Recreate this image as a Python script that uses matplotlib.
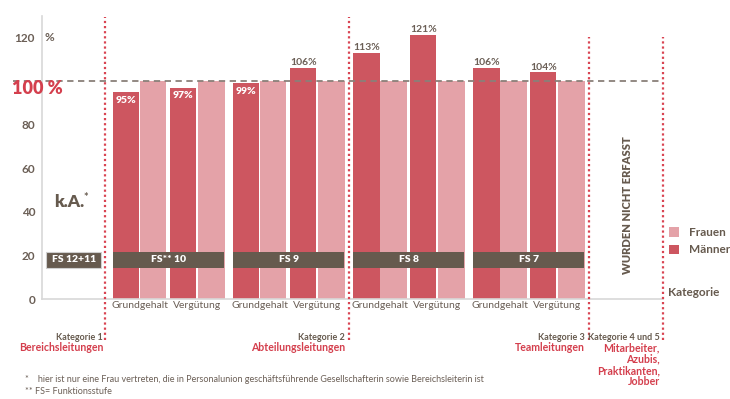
import matplotlib.pyplot as plt
import matplotlib.font_manager as fm

# data
groups = ["FS** 10", "FS 9", "FS 8", "FS 7"]
pair_labels = ["Grundgehalt", "Vergütung"]
maenner = [[95, 97], [99, 106], [113, 121], [106, 104]]
frauen = [[100, 100], [100, 100], [100, 100], [100, 100]]
yticks = [0, 20, 40, 60, 80, 120]
kategorien = ["Kategorie 1", "Kategorie 2", "Kategorie 3", "Kategorie 4 und 5"]
kat_namen = ["Bereichsleitungen", "Abteilungsleitungen", "Teamleitungen",
             "Mitarbeiter,\nAzubis,\nPraktikanten,\nJobber"]

# colours
C_M = "#cd5660"
C_F = "#e4a2a8"
BROWN = "#665a4e"
TXT = "#6b5f56"
RED = "#d43f4d"

names = {f.name for f in fm.fontManager.ttflist}
FONT = "Lato" if "Lato" in names else "DejaVu Sans"
NARROW = "Liberation Sans Narrow" if "Liberation Sans Narrow" in names else FONT
plt.rcParams["font.family"] = FONT
HEAVY = "heavy"

W, H = 730, 399
fig = plt.figure(figsize=(W / 100, H / 100), dpi=100)
PX = 27.0  # pixels per bar width
ax = fig.add_axes([42 / W, 100 / H, 621 / W, 283.4 / H])
ax.set_xlim(0, 621 / PX)
ax.set_ylim(0, 130)


def fx(px):
    return px / W


def fy(py):
    return 1 - py / H


# bars
offsets = [0, 1.0, 2.11, 3.15]
group_w = 4.12
for g, name in enumerate(groups):
    x0 = 2.63 + g * 4.445
    for p in range(2):
        xm = x0 + offsets[2 * p]
        xf = x0 + offsets[2 * p + 1]
        bm = ax.bar(xm, maenner[g][p], width=0.98, align="edge", color=C_M, zorder=2)
        bf = ax.bar(xf, frauen[g][p], width=0.98, align="edge", color=C_F, zorder=2)
        v = maenner[g][p]
        if v < 100:
            ax.text(xm + 0.49, v - 3.8, f"{v}%", ha="center", va="center",
                    color="white", fontsize=7.5, fontweight=HEAVY, zorder=4)
        else:
            ax.text(xm + 0.49, v + 2.4, f"{v}%", ha="center", va="center",
                    color=TXT, fontsize=7.5, fontweight="bold", zorder=4)
        ax.text((xm + xf + 0.98) / 2, -2.8, pair_labels[p], ha="center", va="center",
                color=TXT, fontsize=7.5, family=NARROW, clip_on=False)
    ax.broken_barh([(x0, group_w)], (14.2, 7.4), facecolors=BROWN, zorder=3)
    ax.text(x0 + group_w / 2, 17.9, name, ha="center", va="center", color="white",
            fontsize=7.5, fontweight=HEAVY, zorder=5)

# FS 12+11 box (no data)
ax.broken_barh([(0.15, 2.04)], (14.2, 7.4), facecolors=BROWN, edgecolors="#cfcfcf",
               linewidth=0.8, zorder=3)
ax.text(1.17, 17.9, "FS 12+11", ha="center", va="center", color="white",
        fontsize=7.5, fontweight=HEAVY, zorder=5)
ax.text(0.45, 44.5, "k.A.", ha="left", va="center", color=BROWN, fontsize=12.5,
        fontweight=HEAVY)
ax.text(1.55, 46.5, "*", ha="left", va="center", color=BROWN, fontsize=8,
        fontweight="bold")

ax.text(21.7, 43, "WURDEN NICHT ERFASST", rotation=90, ha="center", va="center",
        color=BROWN, fontsize=8, fontweight=HEAVY)

# 100 % reference line
ax.plot([-29 / PX, 621 / PX], [100, 100], color="#8a8079", lw=1.3,
        ls=(0, (3.5, 2.5)), clip_on=False, zorder=6)
fig.text(fx(12), fy(88), "100 %", color=RED, fontsize=13, fontweight=HEAVY,
         ha="left", va="center")

# category dividers
for xp, top in [(105, 17), (349, 17), (589, 37), (663, 37)]:
    ax.plot([(xp - 42) / PX] * 2, [(299 - 340) / 2.18, (299 - top) / 2.18],
            color="#d94452", lw=1.6, ls=(0, (1.0, 1.3)), clip_on=False, zorder=6)

# category labels
for xp, k, n in zip([103, 345, 585, 660], kategorien, kat_namen):
    fig.text(fx(xp), fy(338), k, ha="right", va="center", color=BROWN,
             fontsize=6.5, fontweight="bold", family=NARROW)
    fig.text(fx(xp), fy(342), n, ha="right", va="top", color=RED, fontsize=7.6,
             fontweight="bold", family=NARROW, linespacing=1.05)

# axes styling
for s in ["top", "right"]:
    ax.spines[s].set_visible(False)
ax.spines["left"].set_color("#d8d8d8")
ax.spines["bottom"].set_color("#d8d8d8")
ax.spines["left"].set_linewidth(1.2)
ax.spines["bottom"].set_linewidth(1.2)
ax.set_xticks([])
ax.set_yticks(yticks)
ax.set_yticklabels([str(t) for t in yticks], color=TXT, fontsize=8.5,
                   fontweight="bold")
ax.tick_params(axis="y", length=0, pad=5)
ax.text(0.1, 120, "%", ha="left", va="center", color=TXT, fontsize=8.5,
        fontweight="bold")

# legend
fig.legend(handles=[bf, bm], labels=["Frauen", "Männer"], loc="upper left",
           bbox_to_anchor=(fx(669), fy(227)), frameon=False,
           borderpad=0, borderaxespad=0,
           handlelength=0.85, handleheight=0.85, handletextpad=0.85,
           labelspacing=0.55, labelcolor=BROWN, prop={"weight": "bold", "size": 8.5})
fig.text(fx(668), fy(292), "Kategorie", ha="left", va="center", color=BROWN,
         fontsize=8.5, fontweight="bold")

# footnotes
fig.text(fx(25), fy(380), "*    hier ist nur eine Frau vertreten, die in Personalunion "
         "geschäftsführende Gesellschafterin sowie Bereichsleiterin ist",
         ha="left", va="center", color=TXT, fontsize=6.5, family=NARROW)
fig.text(fx(25), fy(392), "** FS= Funktionsstufe", ha="left", va="center",
         color=TXT, fontsize=6.5, family=NARROW)

fig.savefig("out.png", dpi=100)
